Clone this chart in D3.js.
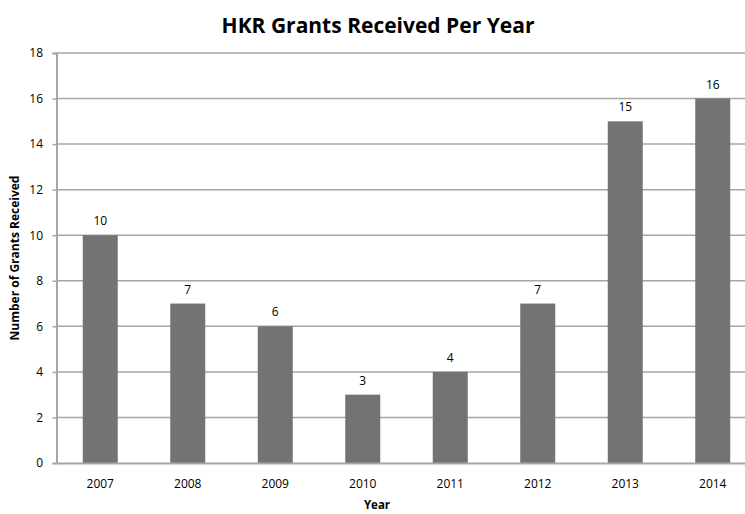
<!DOCTYPE html>
<html>
<head>
<meta charset="utf-8">
<script src="https://cdn.jsdelivr.net/npm/d3@7"></script>
<style>
  html, body { margin: 0; padding: 0; background: #fff; }
  svg { display: block; font-family: "Open Sans", "Noto Sans", sans-serif; }
</style>
</head>
<body>
<svg id="chart" width="745" height="514"></svg>
<script>
// Grants received by year
const years = ["2007", "2008", "2009", "2010", "2011", "2012", "2013", "2014"];
const grants = [10, 7, 6, 3, 4, 7, 15, 16];
const yTicks = [0, 2, 4, 6, 8, 10, 12, 14, 16, 18];

const svg = d3.select("#chart");
const plotLeft = 56.5, plotRight = 756.5, plotTop = 53, plotBottom = 463;

const x = d3.scaleBand().domain(years).range([plotLeft, plotRight]).paddingInner(0.6).paddingOuter(0.3);
const y = d3.scaleLinear().domain([0, 18]).range([plotBottom, plotTop]);

// Title
svg.append("text")
  .attr("x", 378).attr("y", 33)
  .attr("text-anchor", "middle")
  .attr("font-size", 21).attr("font-weight", "bold")
  .attr("fill", "#000")
  .text("HKR Grants Received Per Year");

// Horizontal gridlines
svg.append("g").selectAll("line").data(yTicks.filter(d => d > 0)).join("line")
  .attr("x1", plotLeft).attr("x2", plotRight)
  .attr("y1", d => y(d)).attr("y2", d => y(d))
  .attr("stroke", "#a6a6a6").attr("stroke-width", 1.5);

// Bars
svg.append("g").selectAll("rect").data(grants).join("rect")
  .attr("x", (d, i) => x(years[i]))
  .attr("width", x.bandwidth())
  .attr("y", d => y(d))
  .attr("height", d => y(0) - y(d))
  .attr("fill", "#737373");

// Value labels
svg.append("g").selectAll("text").data(grants).join("text")
  .attr("x", (d, i) => x(years[i]) + x.bandwidth() / 2)
  .attr("y", d => y(d) - 10)
  .attr("text-anchor", "middle")
  .attr("font-size", 12).attr("fill", "#000")
  .text(d => d);

// Y axis
const yAxis = svg.append("g")
  .attr("transform", `translate(${plotLeft},0)`)
  .call(d3.axisLeft(y).tickValues(yTicks).tickSize(4).tickPadding(9.5));
yAxis.select(".domain").attr("stroke", "#a6a6a6").attr("stroke-width", 2);
yAxis.selectAll(".tick line").attr("stroke", "#a6a6a6").attr("stroke-width", 1.5);
yAxis.selectAll(".tick text").attr("font-size", 12).attr("fill", "#000")
  .attr("font-family", "\"Open Sans\", sans-serif");

// X axis
const xAxis = svg.append("g")
  .attr("transform", `translate(0,${plotBottom})`)
  .call(d3.axisBottom(x).tickSize(0).tickPadding(16));
xAxis.select(".domain").attr("stroke", "#a6a6a6").attr("stroke-width", 2);
xAxis.selectAll(".tick text").attr("font-size", 12).attr("fill", "#000")
  .attr("font-family", "\"Open Sans\", sans-serif");

// Axis titles
svg.append("text")
  .attr("x", 377).attr("y", 509)
  .attr("text-anchor", "middle")
  .attr("font-size", 11.5).attr("font-weight", "bold")
  .text("Year");

svg.append("text")
  .attr("transform", `translate(19,${(plotTop + plotBottom) / 2}) rotate(-90)`)
  .attr("text-anchor", "middle")
  .attr("font-size", 12).attr("font-weight", "bold")
  .text("Number of Grants Received");
</script>
</body>
</html>
